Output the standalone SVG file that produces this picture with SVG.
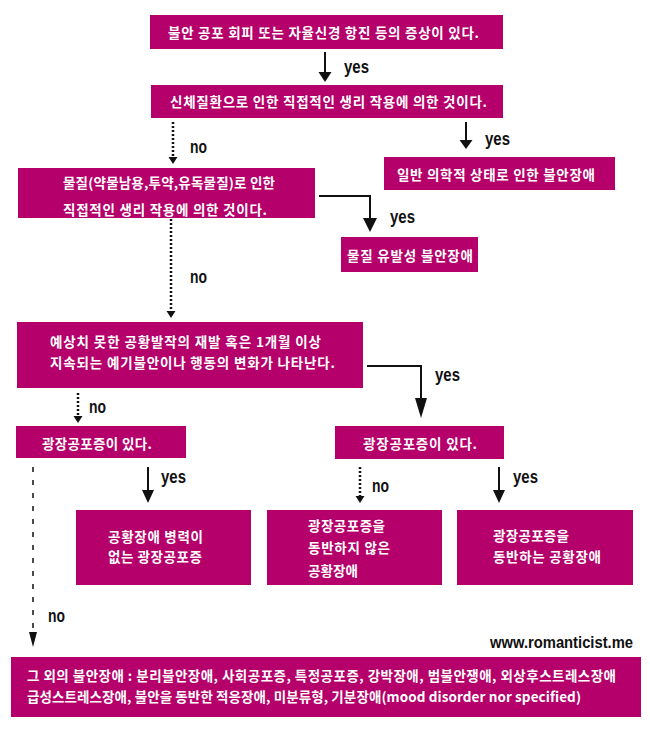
<svg xmlns="http://www.w3.org/2000/svg" width="650" height="734" viewBox="0 0 650 734">
<style>
.box{fill:#B5006B}
.t{font-family:"Noto Sans CJK KR","Noto Sans",sans-serif;font-weight:bold;font-size:13.5px;fill:#fff}
.lbl{font-family:"Liberation Sans",Arial,sans-serif;font-weight:bold;font-size:18px;fill:#111}
.url{font-family:"Liberation Sans",Arial,sans-serif;font-weight:bold;font-size:16px;fill:#111}
.solid{stroke:#111;stroke-width:2;fill:none}
.dot{stroke:#111;stroke-width:2.5;stroke-dasharray:2 2;fill:none}
.dash{stroke:#111;stroke-width:1.5;stroke-dasharray:5 8;fill:none}
.head{fill:#111}
</style>
<rect width="650" height="734" fill="#fff"/>

<g id="n1"><rect class="box" x="150" y="15" width="353" height="34"/><text class="t" x="168" y="38" textLength="311">불안 공포 회피 또는 자율신경 항진 등의 증상이 있다.</text></g>
<g id="n2"><rect class="box" x="151" y="85" width="352" height="33"/><text class="t" x="170" y="107" textLength="317">신체질환으로 인한 직접적인 생리 작용에 의한 것이다.</text></g>
<g id="n3"><rect class="box" x="384" y="157" width="231" height="33"/><text class="t" x="397" y="180" textLength="198">일반 의학적 상태로 인한 불안장애</text></g>
<g id="n4"><rect class="box" x="18" y="168" width="297" height="50"/><text class="t" x="63" y="188" textLength="212">물질(약물남용,투약,유독물질)로 인한</text><text class="t" x="63" y="215" textLength="204">직접적인 생리 작용에 의한 것이다.</text></g>
<g id="n5"><rect class="box" x="341" y="237" width="137" height="35"/><text class="t" x="347" y="261" textLength="126">물질 유발성 불안장애</text></g>
<g id="n6"><rect class="box" x="17" y="322" width="346" height="66"/><text class="t" x="50" y="347" textLength="271">예상치 못한 공황발작의 재발 혹은 1개월 이상</text><text class="t" x="50" y="368" textLength="285">지속되는 예기불안이나 행동의 변화가 나타난다.</text></g>
<g id="n7"><rect class="box" x="16" y="426" width="170" height="32"/><text class="t" x="42" y="449" textLength="110">광장공포증이 있다.</text></g>
<g id="n8"><rect class="box" x="335" y="426" width="169" height="33"/><text class="t" x="363" y="449" textLength="114">광장공포증이 있다.</text></g>
<g id="n9"><rect class="box" x="76" y="510" width="175" height="75"/><text class="t" x="108" y="541.5" textLength="95">공황장애 병력이</text><text class="t" x="108" y="562" textLength="94">없는 광장공포증</text></g>
<g id="n10"><rect class="box" x="267" y="510" width="175" height="75"/><text class="t" x="308" y="531" textLength="77">광장공포증을</text><text class="t" x="308" y="552.5" textLength="82">동반하지 않은</text><text class="t" x="308" y="576" textLength="50">공황장애</text></g>
<g id="n11"><rect class="box" x="457" y="510" width="176" height="75"/><text class="t" x="493" y="540.5" textLength="76">광장공포증을</text><text class="t" x="493" y="562" textLength="108">동반하는 공황장애</text></g>
<g id="n12"><rect class="box" x="11" y="657" width="630" height="60"/><text class="t" x="27" y="681" textLength="589">그 외의 불안장애 : 분리불안장애, 사회공포증, 특정공포증, 강박장애, 범불안쟁애, 외상후스트레스장애</text><text class="t" x="27" y="702" textLength="554">급성스트레스장애, 불안을 동반한 적응장애, 미분류형, 기분장애(mood disorder nor specified)</text></g>

<g id="connectors">
<line class="solid" x1="325" y1="52" x2="325" y2="74"/><polygon class="head" points="318.5,72 331.5,72 325,82"/>
<line class="dot" x1="173" y1="122" x2="173" y2="158"/><polygon class="head" points="168.5,157 177.5,157 173,164"/>
<line class="solid" x1="466" y1="122" x2="466" y2="142"/><polygon class="head" points="459.5,140 472.5,140 466,149"/>
<polyline class="solid" points="319,196 370,196 370,220"/><polygon class="head" points="363,218 377,218 370,232"/>
<line class="dot" x1="171" y1="219" x2="171" y2="312"/><polygon class="head" points="166.5,311 175.5,311 171,318"/>
<polyline class="solid" points="367,366 421,366 421,400"/><polygon class="head" points="415,398 427,398 421,418"/>
<line class="dot" x1="78" y1="393" x2="78" y2="417"/><polygon class="head" points="73.5,416 82.5,416 78,423"/>
<line class="solid" x1="148" y1="467" x2="148" y2="492"/><polygon class="head" points="142,490 154,490 148,503"/>
<line class="dot" x1="360" y1="467" x2="360" y2="497"/><polygon class="head" points="355.5,496 364.5,496 360,503"/>
<line class="solid" x1="499" y1="467" x2="499" y2="492"/><polygon class="head" points="493,490 505,490 499,503"/>
<line class="dash" x1="33" y1="467" x2="33" y2="634"/><polygon class="head" points="29,632 37,632 33,647"/>
</g>

<g id="labels">
<text class="lbl" x="344" y="72.5" textLength="25" lengthAdjust="spacingAndGlyphs">yes</text>
<text class="lbl" x="190" y="153" textLength="17" lengthAdjust="spacingAndGlyphs">no</text>
<text class="lbl" x="485" y="145" textLength="25" lengthAdjust="spacingAndGlyphs">yes</text>
<text class="lbl" x="390" y="223" textLength="25" lengthAdjust="spacingAndGlyphs">yes</text>
<text class="lbl" x="190" y="283" textLength="17" lengthAdjust="spacingAndGlyphs">no</text>
<text class="lbl" x="435" y="380.5" textLength="25" lengthAdjust="spacingAndGlyphs">yes</text>
<text class="lbl" x="89" y="412.5" textLength="17" lengthAdjust="spacingAndGlyphs">no</text>
<text class="lbl" x="161" y="482.5" textLength="25" lengthAdjust="spacingAndGlyphs">yes</text>
<text class="lbl" x="372" y="491.5" textLength="17" lengthAdjust="spacingAndGlyphs">no</text>
<text class="lbl" x="513" y="482.5" textLength="25" lengthAdjust="spacingAndGlyphs">yes</text>
<text class="lbl" x="48" y="622" textLength="17" lengthAdjust="spacingAndGlyphs">no</text>
<text class="url" x="490" y="648" textLength="143" lengthAdjust="spacingAndGlyphs">www.romanticist.me</text>
</g>
</svg>
